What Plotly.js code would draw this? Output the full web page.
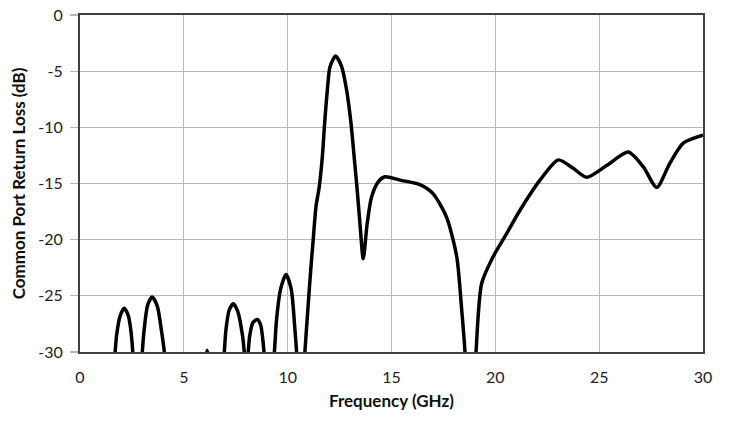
<!DOCTYPE html>
<html>
<head>
<meta charset="utf-8">
<script src="https://cdn.plot.ly/plotly-3.0.1.min.js"></script>
<style>html,body{margin:0;padding:0;background:#fff;}#chart{width:730px;height:429px;}</style>
</head>
<body>
<div id="chart"></div>
<script>
// Frequency (GHz) and common port return loss (dB); values below -30 fall outside the axis range
const freqGHz = [1.55, 1.69, 1.77, 1.93, 2.13, 2.33, 2.47, 2.54, 2.64, 2.77,
  2.9, 3.0, 3.09, 3.26, 3.48, 3.72, 3.93, 4.06, 4.17, 4.4, 5.0, 5.6, 6.0, 6.12, 6.24, 6.55,
  6.85, 6.95, 7.03, 7.18, 7.38, 7.6, 7.83, 7.91, 8.0, 8.1, 8.17, 8.32, 8.54, 8.7, 8.81, 8.86, 8.95, 9.1,
  9.26, 9.36, 9.47, 9.66, 9.92, 10.17, 10.35, 10.43, 10.53, 10.63, 10.75, 10.83, 10.98, 11.11, 11.23, 11.36, 11.52,
  11.67, 11.78, 11.91, 12.04, 12.31, 12.6, 12.84, 13.05, 13.2, 13.35, 13.48, 13.64,
  13.83, 14.04, 14.36, 14.68, 15.41, 16.37, 17.0, 17.65,
  18.14, 18.37, 18.54, 18.65, 18.8, 18.95, 19.07, 19.34, 19.9, 20.5, 21.18, 22.15, 23.03,
  23.75, 24.4, 25.36, 26.4, 27.12, 27.77, 28.4, 29.05, 30.0];
const returnLossDb = [-33, -30, -28.4, -26.8, -26.1, -26.8, -28.4, -30, -33, -36,
  -33, -30, -28.0, -25.8, -25.1, -25.9, -28.2, -30, -33, -38, -45, -38, -31, -29.85, -31, -38,
  -33, -30, -28.0, -26.3, -25.7, -26.4, -28.6, -30, -32, -30, -28.6, -27.4, -27.1, -27.6, -29.0, -30, -32, -34,
  -32, -30, -27.0, -24.4, -23.1, -24.4, -28.0, -30, -33, -36, -33, -30, -26.0, -22.7, -20.0, -17.1, -15.3,
  -12.6, -9.65, -6.7, -4.6, -3.65, -4.6, -6.7, -9.65, -12.6, -15.6, -18.55, -21.7,
  -18.55, -16.2, -14.85, -14.4, -14.7, -15.1, -15.9, -18.0,
  -21.5, -26.0, -30, -34, -38, -34, -30, -23.9, -21.5, -19.6, -17.4, -14.7, -12.9,
  -13.65, -14.45, -13.4, -12.2, -13.5, -15.35, -13.2, -11.4, -10.7];
const xTicks = [0, 5, 10, 15, 20, 25, 30];
const yTicks = [0, -5, -10, -15, -20, -25, -30];

const tickFont = {family: 'Lato, "Open Sans", sans-serif', size: 16, color: '#222'};
const titleFont = {family: 'Lato, "Open Sans", sans-serif', size: 17, color: '#111', weight: 'bold'};

Plotly.newPlot('chart', [{
  x: freqGHz, y: returnLossDb, type: 'scatter', mode: 'lines',
  line: {color: '#000', width: 3.5, shape: 'spline', smoothing: 0.7},
  hoverinfo: 'skip'
}], {
  width: 730, height: 429,
  margin: {l: 80, r: 27, t: 15, b: 77},
  paper_bgcolor: '#fff', plot_bgcolor: '#fff',
  showlegend: false,
  xaxis: {
    range: [0, 30], tickvals: xTicks, ticktext: xTicks.map(String),
    showgrid: true, gridcolor: '#b8b8b8', gridwidth: 1.2,
    showline: true, mirror: true, linecolor: '#404040', linewidth: 2,
    zeroline: false, ticks: '', ticklabelstandoff: 10,
    tickfont: tickFont,
    title: {text: 'Frequency (GHz)', font: titleFont, standoff: 10}
  },
  yaxis: {
    range: [-30, 0], tickvals: yTicks, ticktext: yTicks.map(String),
    showgrid: true, gridcolor: '#b8b8b8', gridwidth: 1.2,
    showline: true, mirror: true, linecolor: '#404040', linewidth: 2,
    zeroline: false, ticks: 'outside', ticklen: 8, tickcolor: '#b8b8b8', tickwidth: 1.2,
    ticklabelstandoff: 4,
    tickfont: tickFont,
    title: {text: 'Common Port Return Loss (dB)', font: titleFont, standoff: 8}
  }
}, {staticPlot: true});
</script>
</body>
</html>
